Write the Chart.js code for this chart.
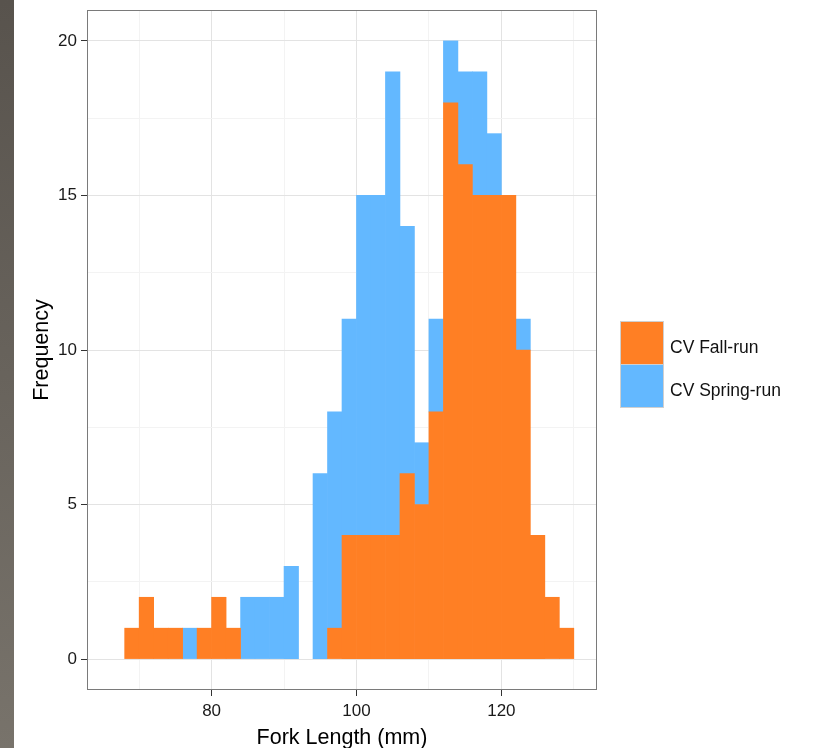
<!DOCTYPE html>
<html>
<head>
<meta charset="utf-8">
<script src="https://cdn.jsdelivr.net/npm/chart.js@4/dist/chart.umd.min.js"></script>
<style>
  html, body { margin: 0; padding: 0; background: #ffffff; }
  body { width: 824px; height: 748px; position: relative; overflow: hidden; font-family: "Liberation Sans", Arial, sans-serif; }
  #strip { position: absolute; left: 0; top: 0; width: 14px; height: 748px; background: linear-gradient(#58534d, #78736b); }
  canvas { position: absolute; left: 0; top: 0; }
  .key { position: absolute; left: 620px; width: 42px; height: 42px; border: 1px solid #cfcfcf; }
  .lab { position: absolute; left: 670px; font-size: 17.5px; color: #111; line-height: 20px; }
</style>
</head>
<body>
<div id="strip"></div>
<canvas id="c" width="824" height="748"></canvas>
<div class="key" style="top:321px; background:#FF7F24;"></div>
<div class="key" style="top:364px; background:#63B8FF;"></div>
<div class="lab" style="top:337px;">CV Fall-run</div>
<div class="lab" style="top:380px;">CV Spring-run</div>
<script>
// Histogram bins (start of each 2 mm bin)
const binStarts = [66,68,70,72,74,76,78,80,82,84,86,88,90,92,94,96,98,100,102,104,106,108,110,112,114,116,118,120,122,124,126,128];
// CV Fall-run counts per bin
const fallCounts = [0,1,2,1,1,0,1,2,1,0,0,0,0,0,0,1,4,4,4,4,6,5,8,18,16,15,15,15,10,4,2,1];
// CV Spring-run counts per bin (stacked above Fall-run)
const springCounts = [0,0,0,0,0,1,0,0,0,2,2,2,3,0,6,7,7,11,11,15,8,2,3,2,3,4,2,0,1,0,0,0];
const binWidth = 2;
const xTicks = [70,80,90,100,110,120,130];
const yTicks = [0,2.5,5,7.5,10,12.5,15,17.5,20];
const seriesNames = ['CV Fall-run','CV Spring-run'];

// empty bins are left out (null) so no zero-height sliver is drawn
const toPoints = arr => arr.map((v,i) => ({x: binStarts[i] + binWidth/2, y: v === 0 ? null : v}));

const panelBorder = {
  id: 'panelBorder',
  afterDraw(chart) {
    const a = chart.chartArea, ctx = chart.ctx;
    ctx.save();
    ctx.strokeStyle = '#7a7a7a';
    ctx.lineWidth = 1;
    ctx.strokeRect(Math.round(a.left) + 0.5, Math.round(a.top) + 0.5, Math.round(a.right - a.left) - 1, Math.round(a.bottom - a.top) - 1);
    ctx.restore();
  }
};

const font = { family: '"Liberation Sans", Arial, sans-serif' };

new Chart(document.getElementById('c'), {
  type: 'bar',
  data: {
    datasets: [
      { label: seriesNames[0], data: toPoints(fallCounts), backgroundColor: '#FF7F24', borderWidth: 0, barPercentage: 1, categoryPercentage: 1 },
      { label: seriesNames[1], data: toPoints(springCounts), backgroundColor: '#63B8FF', borderWidth: 0, barPercentage: 1, categoryPercentage: 1 }
    ]
  },
  options: {
    responsive: false,
    devicePixelRatio: 1,
    animation: false,
    layout: { padding: { top: 10, right: 227, bottom: 0, left: 0 } },
    plugins: { legend: { display: false }, tooltip: { enabled: false } },
    scales: {
      x: {
        type: 'linear',
        stacked: true,
        offset: false,
        min: 62.8,
        max: 133.2,
        afterBuildTicks: s => { s.ticks = xTicks.map(v => ({ value: v })); },
        afterFit: s => { s.height = 58; s.paddingLeft = 0; s.paddingRight = 0; },
        border: { display: false },
        grid: {
          offset: false,
          drawTicks: true,
          tickLength: 6,
          color: c => (c.tick && c.tick.value % 20 === 0) ? '#e3e3e3' : '#f3f3f3',
          lineWidth: 1,
          tickColor: c => (c.tick && c.tick.value % 20 === 0) ? '#333333' : 'rgba(0,0,0,0)',
          tickWidth: 1
        },
        ticks: {
          autoSkip: false,
          maxRotation: 0,
          padding: 5,
          color: '#1a1a1a',
          font: Object.assign({ size: 17 }, font),
          callback: v => (v % 20 === 0) ? String(v) : ''
        },
        title: { display: true, text: 'Fork Length (mm)', color: '#000', font: Object.assign({ size: 21.5 }, font), padding: { top: 0, bottom: -3 } }
      },
      y: {
        stacked: true,
        min: -1,
        max: 21,
        afterBuildTicks: s => { s.ticks = yTicks.map(v => ({ value: v })); },
        afterFit: s => { s.width = 87; s.paddingTop = 0; s.paddingBottom = 0; },
        border: { display: false },
        grid: {
          drawTicks: true,
          tickLength: 6,
          color: c => (c.tick && c.tick.value % 5 === 0) ? '#e3e3e3' : '#f3f3f3',
          lineWidth: 1,
          tickColor: c => (c.tick && c.tick.value % 5 === 0) ? '#333333' : 'rgba(0,0,0,0)',
          tickWidth: 1
        },
        ticks: {
          autoSkip: false,
          padding: 4,
          color: '#1a1a1a',
          font: Object.assign({ size: 17 }, font),
          callback: v => (v % 5 === 0) ? String(v) : ''
        },
        title: { display: true, text: 'Frequency', color: '#000', font: Object.assign({ size: 21.5 }, font), padding: { top: 29, bottom: 0 } }
      }
    }
  },
  plugins: [panelBorder]
});
</script>
</body>
</html>
